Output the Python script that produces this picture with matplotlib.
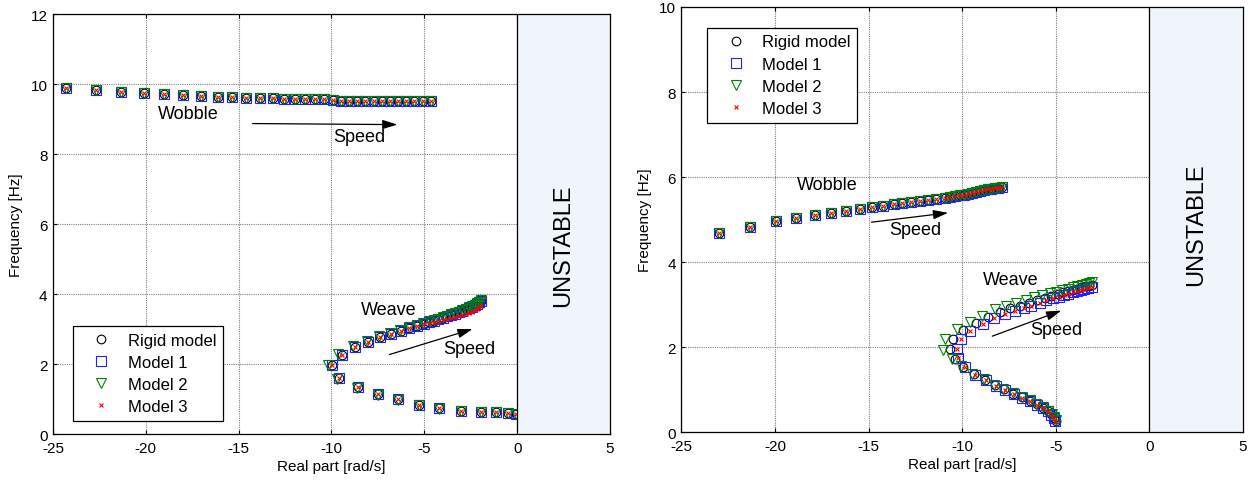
import matplotlib
matplotlib.use("Agg")
import matplotlib.pyplot as plt

plt.rcParams['font.family'] = ['Liberation Sans', 'DejaVu Sans']
plt.rcParams['axes.unicode_minus'] = False

# ---------------- data: left panel ----------------
L_wobble_x = [-24.30, -22.69, -21.31, -20.09, -19.02, -18.00, -17.04, -16.11, -15.34, -14.59,
              -13.87, -13.16, -12.53, -11.94, -11.40, -10.86, -10.38, -9.93, -9.49, -9.05,
              -8.61, -8.17, -7.73, -7.29, -6.85, -6.41, -5.97, -5.53, -5.09, -4.64]
L_wobble_y = [9.90, 9.82, 9.77, 9.74, 9.71, 9.69, 9.66, 9.64, 9.64, 9.60,
              9.60, 9.59, 9.57, 9.57, 9.56, 9.56, 9.56, 9.53, 9.52, 9.52,
              9.52, 9.52, 9.52, 9.52, 9.52, 9.52, 9.52, 9.52, 9.52, 9.52]

L_weave_x = [-0.05, -0.48, -1.15, -1.92, -3.00, -4.19, -5.31, -6.41, -7.49, -8.59, -9.61, -9.98,
             -9.45, -8.71, -8.01, -7.37, -6.79, -6.25, -5.81, -5.39, -5.04, -4.75, -4.50, -4.25,
             -4.00, -3.78, -3.56, -3.35, -3.15, -2.95, -2.77, -2.60, -2.44, -2.29, -2.15, -2.03, -1.95]
L_weave_y = [0.58, 0.60, 0.63, 0.63, 0.66, 0.73, 0.83, 0.99, 1.13, 1.34, 1.61, 1.96,
             2.27, 2.49, 2.64, 2.77, 2.86, 2.95, 3.03, 3.10, 3.15, 3.20, 3.24, 3.28,
             3.32, 3.36, 3.40, 3.44, 3.48, 3.52, 3.56, 3.60, 3.64, 3.68, 3.72, 3.76, 3.79]

L_weave_x_m2 = [-0.05, -0.48, -1.15, -1.92, -3.00, -4.19, -5.31, -6.41, -7.49, -8.62, -9.70, -10.20,
                -9.65, -8.85, -8.10, -7.45, -6.85, -6.30, -5.85, -5.42, -5.07, -4.77, -4.50, -4.25,
                -4.00, -3.78, -3.56, -3.35, -3.15, -2.95, -2.77, -2.60, -2.44, -2.29, -2.15, -2.03, -1.95]
L_weave_y_m2 = [0.57, 0.59, 0.62, 0.62, 0.65, 0.72, 0.82, 0.97, 1.11, 1.31, 1.57, 1.98,
                2.30, 2.52, 2.67, 2.79, 2.88, 2.97, 3.05, 3.12, 3.17, 3.22, 3.26, 3.30,
                3.34, 3.38, 3.42, 3.46, 3.50, 3.54, 3.58, 3.62, 3.66, 3.70, 3.74, 3.78, 3.82]

L_weave_y_m3 = [0.58, 0.60, 0.63, 0.63, 0.66, 0.73, 0.83, 0.99, 1.13, 1.34, 1.61, 1.96,
                2.27, 2.49, 2.64, 2.77, 2.86, 2.95, 3.03, 3.09, 3.13, 3.17, 3.20, 3.23,
                3.26, 3.29, 3.32, 3.35, 3.38, 3.41, 3.44, 3.47, 3.50, 3.54, 3.58, 3.62, 3.66]

# ---------------- data: right panel ----------------
R_wobble_x = [-22.98, -21.34, -19.97, -18.85, -17.87, -16.98, -16.18, -15.47, -14.79, -14.22,
              -13.65, -13.19, -12.71, -12.26, -11.82, -11.38, -10.94, -10.67, -10.40, -10.14,
              -9.92, -9.69, -9.46, -9.25, -9.04, -8.84, -8.63, -8.45, -8.27, -8.10, -7.86]
R_wobble_y = [4.69, 4.82, 4.96, 5.04, 5.10, 5.16, 5.21, 5.25, 5.29, 5.32,
              5.36, 5.39, 5.41, 5.44, 5.47, 5.49, 5.51, 5.53, 5.55, 5.57,
              5.59, 5.61, 5.63, 5.65, 5.67, 5.69, 5.71, 5.72, 5.74, 5.75, 5.77]

R_weave_x = [-5.02, -5.11, -5.24, -5.42, -5.68, -6.00, -6.36, -6.79, -7.25, -7.73,
             -8.21, -8.74, -9.29, -9.86, -10.24, -10.30,
             -10.04, -9.60, -8.89, -8.30, -7.73, -7.19, -6.72, -6.31, -5.86, -5.50,
             -5.15, -4.85, -4.58, -4.33, -4.10, -3.88, -3.67, -3.47, -3.28, -3.09]
R_weave_y = [0.26, 0.33, 0.41, 0.49, 0.57, 0.65, 0.73, 0.81, 0.90, 1.00,
             1.10, 1.23, 1.35, 1.53, 1.74, 1.96,
             2.20, 2.39, 2.55, 2.68, 2.78, 2.86, 2.92, 2.98, 3.03, 3.10,
             3.15, 3.19, 3.23, 3.26, 3.29, 3.32, 3.35, 3.37, 3.39, 3.41]

R_weave_x_rigid = [-5.00, -5.10, -5.23, -5.42, -5.69, -6.02, -6.38, -6.81, -7.28, -7.77,
                   -8.26, -8.80, -9.37, -9.95, -10.40, -10.65,
                   -10.50, -9.95, -9.25, -8.60, -7.98, -7.42, -6.90, -6.45, -6.00, -5.60,
                   -5.23, -4.90, -4.60, -4.33, -4.08, -3.85, -3.63, -3.43, -3.24, -3.07]
R_weave_y_rigid = [0.27, 0.34, 0.42, 0.50, 0.58, 0.66, 0.74, 0.82, 0.91, 1.01,
                   1.11, 1.24, 1.37, 1.54, 1.73, 1.95,
                   2.20, 2.41, 2.57, 2.71, 2.83, 2.92, 2.98, 3.04, 3.10, 3.16,
                   3.21, 3.25, 3.29, 3.32, 3.35, 3.38, 3.41, 3.43, 3.45, 3.47]

R_weave_x_m2 = [-4.98, -5.08, -5.22, -5.42, -5.70, -6.03, -6.40, -6.83, -7.30, -7.80,
                -8.30, -8.85, -9.45, -10.05, -10.56, -11.00,
                -10.92, -10.30, -9.60, -8.96, -8.25, -7.65, -7.10, -6.60, -6.15, -5.72,
                -5.33, -4.98, -4.66, -4.37, -4.10, -3.85, -3.62, -3.40, -3.20, -3.05]
R_weave_y_m2 = [0.28, 0.35, 0.43, 0.51, 0.59, 0.67, 0.75, 0.83, 0.92, 1.02,
                1.12, 1.25, 1.38, 1.55, 1.72, 1.94,
                2.20, 2.43, 2.60, 2.74, 2.89, 2.98, 3.05, 3.11, 3.17, 3.22,
                3.27, 3.31, 3.35, 3.38, 3.41, 3.44, 3.47, 3.49, 3.51, 3.53]

legend_labels = ["Rigid model", "Model 1", "Model 2", "Model 3"]

styles = [
    dict(marker='o', mfc='none', mec='black', ms=6.2, mew=0.8, ls='none'),
    dict(marker='s', mfc='none', mec='#1f1fff', ms=6.8, mew=0.8, ls='none'),
    dict(marker='v', mfc='none', mec='#008000', ms=7.8, mew=0.8, ls='none'),
    dict(marker='x', color='red', ms=3.2, mew=0.8, ls='none'),
]

fig = plt.figure(figsize=(12.52, 4.81), dpi=100)
axL = fig.add_axes([0.0423, 0.0956, 0.4449, 0.8732])
axR = fig.add_axes([0.5442, 0.0992, 0.4486, 0.8842])

FS = 11


def setup(ax, ymax, yticks, unstable_y):
    ax.set_xlim(-25, 5)
    ax.set_ylim(0, ymax)
    ax.set_xticks(range(-25, 6, 5))
    ax.set_yticks(yticks)
    ax.grid(True, color='#808080', linestyle=(0, (1, 1)), linewidth=0.8)
    ax.set_axisbelow(True)
    ax.tick_params(direction='in', labelsize=FS, length=3, top=True, right=True)
    ax.tick_params(axis='x', pad=5)
    ax.tick_params(axis='y', pad=4)
    ax.set_xlabel("Real part [rad/s]", fontsize=FS, labelpad=3)
    ax.set_ylabel("Frequency [Hz]", fontsize=FS, labelpad=5)
    ax.axvspan(0, 5, facecolor='#eff5fb', edgecolor='none', zorder=4)
    ax.axvline(0, color='black', lw=0.9, zorder=5)
    for s in ax.spines.values():
        s.set_linewidth(0.9)
        s.set_zorder(6)
    ax.text(2.5, unstable_y, "UNSTABLE", rotation=90, ha='center', va='center',
            fontsize=17, zorder=7)


setup(axL, 12, range(0, 13, 2), 5.4)
setup(axR, 10, range(0, 11, 2), 4.9)

# Left panel markers
handles = []
L_sets = [
    (L_weave_x, L_weave_y),
    (L_weave_x, L_weave_y),
    (L_weave_x_m2, L_weave_y_m2),
    (L_weave_x, L_weave_y_m3),
]
for st, (wx, wy), lab in zip(styles, L_sets, legend_labels):
    h, = axL.plot(L_wobble_x, L_wobble_y, label=lab, zorder=3, **st)
    axL.plot(wx, wy, zorder=3, **st)
    handles.append(h)

R_sets = [
    (R_weave_x_rigid, R_weave_y_rigid),
    (R_weave_x, R_weave_y),
    (R_weave_x_m2, R_weave_y_m2),
    (R_weave_x, R_weave_y),
]
handlesR = []
for st, (wx, wy), lab in zip(styles, R_sets, legend_labels):
    h, = axR.plot(R_wobble_x, R_wobble_y, label=lab, zorder=3, **st)
    axR.plot(wx, wy, zorder=3, **st)
    handlesR.append(h)

leg_kw = dict(fontsize=12, frameon=True, fancybox=False, framealpha=1, edgecolor='black',
              borderpad=0.4, handlelength=2.6, handletextpad=0.3, labelspacing=0.43,
              borderaxespad=0.0, numpoints=1)
lg = axL.legend(handles, legend_labels, loc='lower left', bbox_to_anchor=(0.036, 0.031), **leg_kw)
lg.get_frame().set_linewidth(0.9)
lg.set_zorder(8)
lg = axR.legend(handlesR, legend_labels, loc='upper left', bbox_to_anchor=(0.046, 0.951), **leg_kw)
lg.get_frame().set_linewidth(0.9)
lg.set_zorder(8)

arrow = dict(arrowstyle='-|>,head_length=0.9,head_width=0.28', color='black', lw=0.9,
             shrinkA=0, shrinkB=0)
AFS = 13

# Left annotations
axL.text(-17.7, 9.15, "Wobble", fontsize=AFS, ha='center', va='center')
axL.annotate("", xy=(-6.45, 8.84), xytext=(-14.25, 8.87), arrowprops=arrow)
axL.text(-8.5, 8.49, "Speed", fontsize=AFS, ha='center', va='center')
axL.text(-6.9, 3.57, "Weave", fontsize=AFS, ha='center', va='center')
axL.annotate("", xy=(-2.4, 3.0), xytext=(-6.88, 2.27), arrowprops=arrow)
axL.text(-2.6, 2.43, "Speed", fontsize=AFS, ha='center', va='center')

# Right annotations
axR.text(-17.2, 5.82, "Wobble", fontsize=AFS, ha='center', va='center')
axR.annotate("", xy=(-10.75, 5.16), xytext=(-14.84, 4.94), arrowprops=arrow)
axR.text(-12.5, 4.77, "Speed", fontsize=AFS, ha='center', va='center')
axR.text(-7.4, 3.59, "Weave", fontsize=AFS, ha='center', va='center')
axR.annotate("", xy=(-4.71, 2.86), xytext=(-8.39, 2.26), arrowprops=arrow)
axR.text(-4.95, 2.41, "Speed", fontsize=AFS, ha='center', va='center')

fig.savefig("out.png", dpi=100)
